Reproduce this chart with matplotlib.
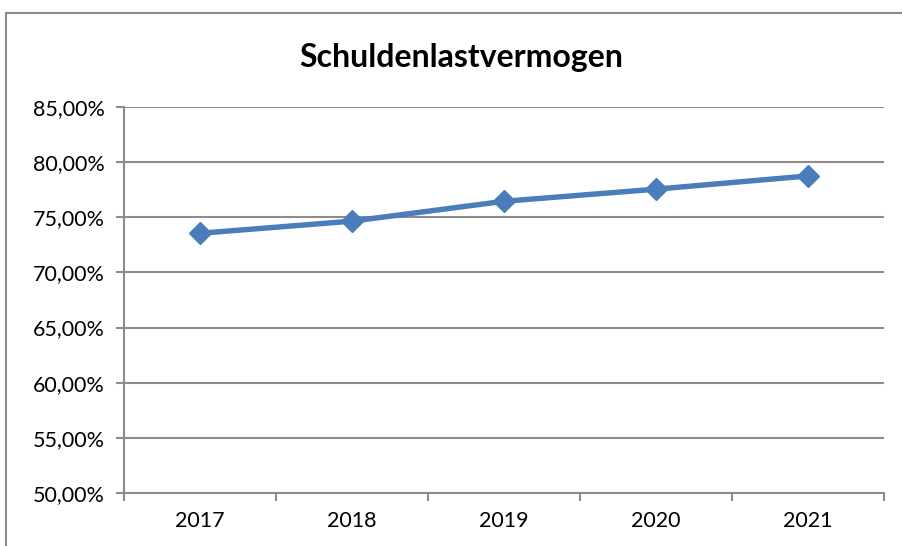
import matplotlib.pyplot as plt
from matplotlib.patches import Rectangle
from matplotlib.ticker import FuncFormatter, MultipleLocator

# data
years = ['2017', '2018', '2019', '2020', '2021']
values = [73.55, 74.65, 76.45, 77.55, 78.75]

plt.rcParams['font.family'] = ['Lato', 'DejaVu Sans']

fig = plt.figure(figsize=(9.02, 5.46), dpi=100)
# outer chart frame (cut off at right and bottom like the screenshot)
fig.patches.append(Rectangle((6 / 902, -0.05), 1.2, 1 - 13 / 546 + 0.05,
                             transform=fig.transFigure, fill=False,
                             edgecolor='#8c8c8c', linewidth=1.5))

ax = fig.add_axes([124 / 902, 1 - 493 / 546, (884 - 124) / 902, (493 - 107) / 546])

x = range(len(years))
ax.plot(x, values, color='#4a7ebb', linewidth=3.9, marker='D', markersize=11.5,
        zorder=3)

ax.set_xlim(-0.5, len(years) - 0.5)
ax.set_ylim(50, 85)
ax.yaxis.set_major_locator(MultipleLocator(5))
ax.yaxis.set_major_formatter(FuncFormatter(lambda v, p: f'{v:.2f}%'.replace('.', ',')))
ax.grid(axis='y', color='#8c8c8c', linewidth=1.5)
ax.set_axisbelow(True)

# category ticks between categories
ax.set_xticks([i - 0.5 for i in range(len(years) + 1)], minor=False)
ax.set_xticklabels([])
ax.set_xticks(list(x), minor=True)
ax.set_xticklabels(years, minor=True)
ax.tick_params(axis='x', which='major', length=6, color='#8c8c8c', width=1.5)
ax.tick_params(axis='x', which='minor', length=0, pad=13, labelsize=15.5)
ax.tick_params(axis='y', length=6, color='#8c8c8c', width=1.5, labelsize=15.5, pad=8)

for s in ['top', 'right']:
    ax.spines[s].set_visible(False)
for s in ['left', 'bottom']:
    ax.spines[s].set_color('#8c8c8c')
    ax.spines[s].set_linewidth(1.5)

fig.text(461 / 902, 1 - 57 / 546, 'Schuldenlastvermogen', ha='center', va='center',
         fontsize=23, fontweight='bold')

fig.savefig('out.png', dpi=100)
